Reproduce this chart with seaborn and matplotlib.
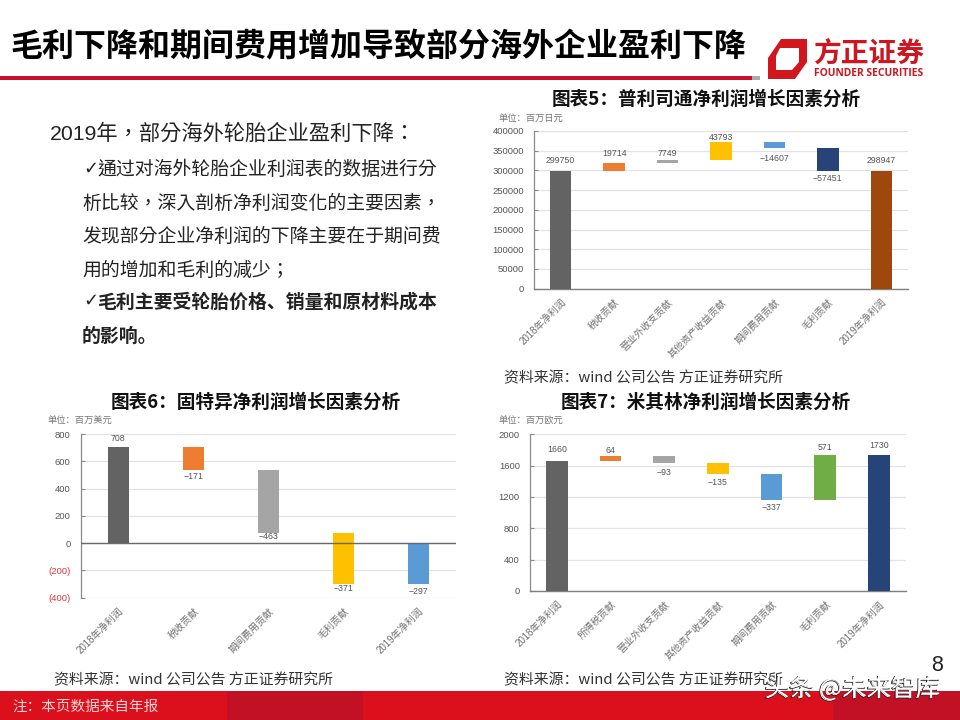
import matplotlib
matplotlib.use("Agg")
import matplotlib.pyplot as plt
import matplotlib.patheffects as pe
from matplotlib.patches import Polygon, Rectangle
import numpy as np
import seaborn as sns

sns.set_theme(style="white")
CJK = ['Noto Sans CJK SC', 'DejaVu Sans']
LAT = ['Liberation Sans', 'Noto Sans CJK SC', 'DejaVu Sans']
BODY = ['Liberation Sans', 'Noto Sans CJK TC', 'DejaVu Sans']
plt.rcParams['font.family'] = CJK
plt.rcParams['axes.unicode_minus'] = False

W, H = 960, 720

cats5 = ["2018年净利润", "税收贡献", "营业外收支贡献", "其他资产收益贡献", "期间费用贡献", "毛利贡献", "2019年净利润"]
vals5 = [299750, 19714, 7749, 43793, -14607, -57451, 298947]
cols5 = ["#636363", "#ED7D31", "#A5A5A5", "#FFC000", "#5B9BD5", "#264478", "#9E480E"]
ticks5 = [0, 50000, 100000, 150000, 200000, 250000, 300000, 350000, 400000]
ticklabels5 = [str(t) for t in ticks5]

cats6 = ["2018年净利润", "税收贡献", "期间费用贡献", "毛利贡献", "2019年净利润"]
vals6 = [708, -171, -463, -371, -297]
cols6 = ["#636363", "#ED7D31", "#A5A5A5", "#FFC000", "#5B9BD5"]
ticks6 = [-400, -200, 0, 200, 400, 600, 800]
ticklabels6 = ["(400)", "(200)", "0", "200", "400", "600", "800"]

cats7 = ["2018年净利润", "所得税贡献", "营业外收支贡献", "其他资产收益贡献", "期间费用贡献", "毛利贡献", "2019年净利润"]
vals7 = [1660, 64, -93, -135, -337, 571, 1730]
cols7 = ["#636363", "#ED7D31", "#A5A5A5", "#FFC000", "#5B9BD5", "#70AD47", "#264478"]
ticks7 = [0, 400, 800, 1200, 1600, 2000]
ticklabels7 = [str(t) for t in ticks7]

fig = plt.figure(figsize=(W / 100, H / 100), dpi=100, facecolor="white")


def px_axes(x0, y0, x1, y1):
    return fig.add_axes([x0 / W, 1 - y1 / H, (x1 - x0) / W, (y1 - y0) / H])


def ftext(x, y, s, **kw):
    kw.setdefault("va", "center")
    return fig.text(x / W, 1 - y / H, s, **kw)


def waterfall(box, cats, vals, cols, ticks, ticklabels, label_offs, bar_w):
    ax = px_axes(*box)
    bottoms, level = [], 0
    n = len(vals)
    for i, v in enumerate(vals):
        if i == 0 or i == n - 1:
            bottoms.append(0)
            level = v
        else:
            bottoms.append(level)
            level += v
    for c, v, b, col in zip(cats, vals, bottoms, cols):
        sns.barplot(x=[c], y=[v], bottom=b, order=cats, color=col, width=bar_w,
                    ax=ax, saturation=1, errorbar=None, zorder=3, linewidth=0)
    ax.set_xlim(-0.5, n - 0.5)
    ax.set_ylim(ticks[0], ticks[-1])
    ax.set_yticks(ticks)
    ax.set_yticklabels(ticklabels, fontfamily="Liberation Sans", fontsize=6.8, color="#555555")
    ax.yaxis.grid(True, color="#E2E2E2", lw=0.9, zorder=0)
    ax.set_axisbelow(True)
    ax.set_facecolor("none")
    ax.set_xlabel("")
    ax.set_ylabel("")
    for s in ("top", "right"):
        ax.spines[s].set_visible(False)
    ax.spines["left"].set_color("#8A8A8A")
    ax.spines["left"].set_linewidth(0.9)
    ax.spines["bottom"].set_color("#808080")
    ax.spines["bottom"].set_linewidth(1.0)
    ax.tick_params(axis="y", direction="in", length=3, width=0.8, color="#8A8A8A", pad=7.3, left=True)
    ax.tick_params(axis="x", length=0, pad=6)
    ax.set_xticks(range(n))
    ax.set_xticklabels(cats, rotation=45, ha="right", va="top", rotation_mode="anchor",
                       fontsize=7, color="#707070", fontfamily=LAT)
    for i, (b, h, off) in enumerate(zip(bottoms, vals, label_offs)):
        if h >= 0:
            y, va, dy = b + h, "bottom", off
        else:
            y, va, dy = b + h, "top", -off
        ax.annotate(str(h).replace("-", "−"), (i, y), xytext=(0, dy), textcoords="offset points",
                    ha="center", va=va, fontsize=6.3, color="#555555",
                    fontfamily="Liberation Sans", zorder=5)
    return ax


ax5 = waterfall((534, 131, 908, 288.7), cats5, vals5, cols5, ticks5, ticklabels5,
                [4, 3.3, 1.5, 0, 4, 2.5, 4], 0.4)
ax6 = waterfall((80.7, 434, 456, 597.7), cats6, vals6, cols6, ticks6, ticklabels6,
                [2.5, 1.8, -0.4, 0.3, 2.5], 0.285)
ax7 = waterfall((530, 434.3, 905.7, 591), cats7, vals7, cols7, ticks7, ticklabels7,
                [4.7, 1, 3.3, 3.3, 2, 2.5, 4], 0.4)

# chart 6: zero line, no bottom axis, red negatives
ax6.spines["bottom"].set_visible(False)
ax6.axhline(0, color="#6A6A6A", lw=1.0, zorder=4)
for lab, t in zip(ax6.get_yticklabels(), ticks6):
    if t < 0:
        lab.set_color("#E0353B")

# page overlay
bg = fig.add_axes([0, 0, 1, 1], zorder=-1)
bg.set_xlim(0, W)
bg.set_ylim(H, 0)
bg.axis("off")
bg.add_patch(Rectangle((0, 76), 752, 4, color="#C8102E", lw=0))
bg.add_patch(Rectangle((752, 76), 8, 4, color="#ABABAB", lw=0))
bg.add_patch(Rectangle((0, 691), W, 29, color="#DC0F1C", lw=0))
bg.add_patch(Rectangle((227, 691), 136, 29, color="#C21025", lw=0))
bg.add_patch(Rectangle((833, 691), 127, 29, color="#C21025", lw=0))

# logo
top = fig.add_axes([0, 0, 1, 1], zorder=5)
top.set_xlim(0, W)
top.set_ylim(H, 0)
top.axis("off")
top.patch.set_alpha(0)
top.add_patch(Polygon([(781, 39), (807, 39), (807, 62), (795, 79), (768, 79), (768, 58)],
                      closed=True, color="#D2161E", lw=0))
top.add_patch(Polygon([(780, 48), (799, 48), (799, 62), (792, 70), (776, 70), (776, 56)],
                      closed=True, color="white", lw=0))
ftext(869, 55, "方正证券", fontsize=20, fontweight="bold", color="#CE1620", ha="center")
ftext(869, 74, "FOUNDER SECURITIES", fontsize=7.4, fontweight="bold", color="#CE1620", ha="center",
      family="Open Sans")

# headline
ftext(10, 47.5, "毛利下降和期间费用增加导致部分海外企业盈利下降", fontsize=23, fontweight="bold", color="black")

# body
ftext(50, 134, "2019年，部分海外轮胎企业盈利下降：", fontsize=15.3, color="#222222", family=BODY)
body_x = [97, 82, 82, 82, 97, 82]
body_y = [170, 204, 237, 271, 302, 336]
body = [("通过对海外轮胎企业利润表的数据进行分", "normal"),
        ("析比较，深入剖析净利润变化的主要因素，", "normal"),
        ("发现部分企业净利润的下降主要在于期间费", "normal"),
        ("用的增加和毛利的减少；", "normal"),
        ("毛利主要受轮胎价格、销量和原材料成本", "bold"),
        ("的影响。", "bold")]
for x, y, (s, w) in zip(body_x, body_y, body):
    ftext(x, y, s, fontsize=13.6, color="#222222", fontweight=w, family=BODY if w == "normal" else CJK)
    if x > 82:
        ftext(83, y - 1, "✓", fontsize=13, color="#222222", family="DejaVu Sans")

# chart titles
ftext(706, 99, "图表5：普利司通净利润增长因素分析", fontsize=13.4, fontweight="bold", color="#111111", ha="center")
ftext(256, 402, "图表6：固特异净利润增长因素分析", fontsize=13.4, fontweight="bold", color="#111111", ha="center")
ftext(706, 402, "图表7：米其林净利润增长因素分析", fontsize=13.4, fontweight="bold", color="#111111", ha="center")

# units
ftext(498, 119, "单位：百万日元", fontsize=6.7, color="#777777")
ftext(48, 421, "单位：百万美元", fontsize=6.7, color="#777777")
ftext(498, 421, "单位：百万欧元", fontsize=6.7, color="#777777")

# sources
src = "资料来源：wind 公司公告 方正证券研究所"
for x, y in [(504, 378), (54, 680), (504, 680)]:
    ftext(x, y, src, fontsize=10.7, color="#333333")

# footer
ftext(12, 707, "注：本页数据来自年报", fontsize=10.5, color="#F6D5D5")
ftext(937.5, 665.5, "8", fontsize=15.5, color="#222222", ha="center", family="Liberation Sans")
ftext(765, 689, "头条 @未来智库", fontsize=17.6, color="white", zorder=10,
      path_effects=[pe.Stroke(linewidth=0.6, foreground="#1A1A1A", offset=(-0.7, -0.7)), pe.Normal()])

fig.savefig("out.png", dpi=100)
